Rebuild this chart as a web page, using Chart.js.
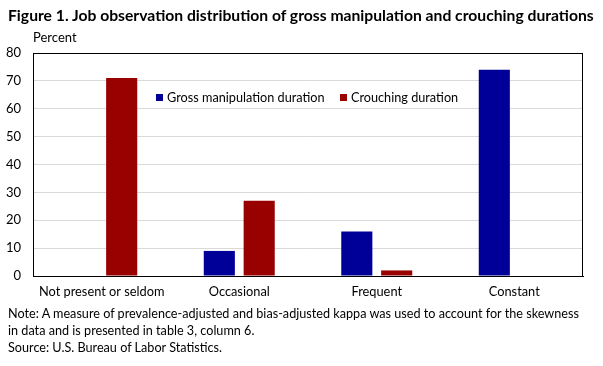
<!DOCTYPE html>
<html><head><meta charset="utf-8">
<script src="https://cdn.jsdelivr.net/npm/chart.js@4"></script>
<style>
html,body{margin:0;padding:0;background:#fff;width:603px;height:366px;overflow:hidden;}
#wrap{position:relative;width:603px;height:366px;}
canvas{position:absolute;left:0;top:0;}
.t{position:absolute;font-family:Lato,sans-serif;color:#000;white-space:nowrap;}
#title{left:8px;top:6px;font-size:15.7px;font-weight:bold;}
#unit{left:33px;top:29px;font-size:13px;}
#note{left:8px;top:305px;font-size:12.65px;line-height:17px;}
</style></head><body>
<div id="wrap">
<canvas id="c" width="603" height="366"></canvas>
<div class="t" id="title">Figure 1. Job observation distribution of gross manipulation and crouching durations</div>
<div class="t" id="unit">Percent</div>
<div class="t" id="note">Note: A measure of prevalence-adjusted and bias-adjusted kappa was used to account for the skewness<br>in data and is presented in table 3, column 6.<br>Source: U.S. Bureau of Labor Statistics.</div>
</div>
<script>
const categories = ["Not present or seldom", "Occasional", "Frequent", "Constant"];
const seriesNames = ["Gross manipulation duration", "Crouching duration"];
const grossManipulation = [0, 9, 16, 74];
const crouching = [71, 27, 2, 0];
const yTicks = [0, 10, 20, 30, 40, 50, 60, 70, 80];
const colors = ["#000099", "#990000"];
const FONT = "Lato, sans-serif";

const boxPlugin = {
  id: 'box',
  afterDraw(chart) {
    const {ctx, chartArea: a} = chart;
    ctx.save();
    ctx.strokeStyle = '#000';
    ctx.lineWidth = 1;
    ctx.strokeRect(Math.round(a.left) + 0.5, Math.round(a.top) + 0.5, Math.round(a.right - a.left) - 1, Math.round(a.bottom - a.top));
    ctx.font = "12.7px " + FONT;
    ctx.textBaseline = 'middle';
    const items = [{x: 156, label: seriesNames[0], c: colors[0]}, {x: 340, label: seriesNames[1], c: colors[1]}];
    items.forEach(it => {
      ctx.fillStyle = it.c;
      ctx.fillRect(it.x, 94, 7, 7);
      ctx.fillStyle = '#000';
      ctx.fillText(it.label, it.x + 11, 98);
    });
    ctx.restore();
  }
};

new Chart(document.getElementById('c'), {
  type: 'bar',
  data: {
    labels: categories,
    datasets: [
      {label: seriesNames[0], data: grossManipulation, backgroundColor: colors[0]},
      {label: seriesNames[1], data: crouching, backgroundColor: colors[1]}
    ]
  },
  options: {
    responsive: false,
    animation: false,
    devicePixelRatio: 1,
    layout: {padding: {left: 0, right: 20, top: 53, bottom: 0}},
    datasets: {bar: {categoryPercentage: 0.58, barPercentage: 0.78}},
    plugins: {legend: {display: false}, tooltip: {enabled: false}},
    scales: {
      x: {
        grid: {display: false, drawTicks: false},
        border: {display: true, color: '#000'},
        ticks: {color: '#000', padding: 8, font: {family: FONT, size: 12.8}, maxRotation: 0, autoSkip: false},
        afterFit(s) { s.height = 90; }
      },
      y: {
        min: 0, max: 80,
        afterBuildTicks(s) { s.ticks = yTicks.map(v => ({value: v})); },
        grid: {color: '#d9d9d9', drawTicks: false},
        border: {display: true, color: '#000'},
        ticks: {color: '#000', padding: 12, font: {family: FONT, size: 13}},
        afterFit(s) { s.width = 33; }
      }
    }
  },
  plugins: [boxPlugin]
});
</script>
</body></html>
